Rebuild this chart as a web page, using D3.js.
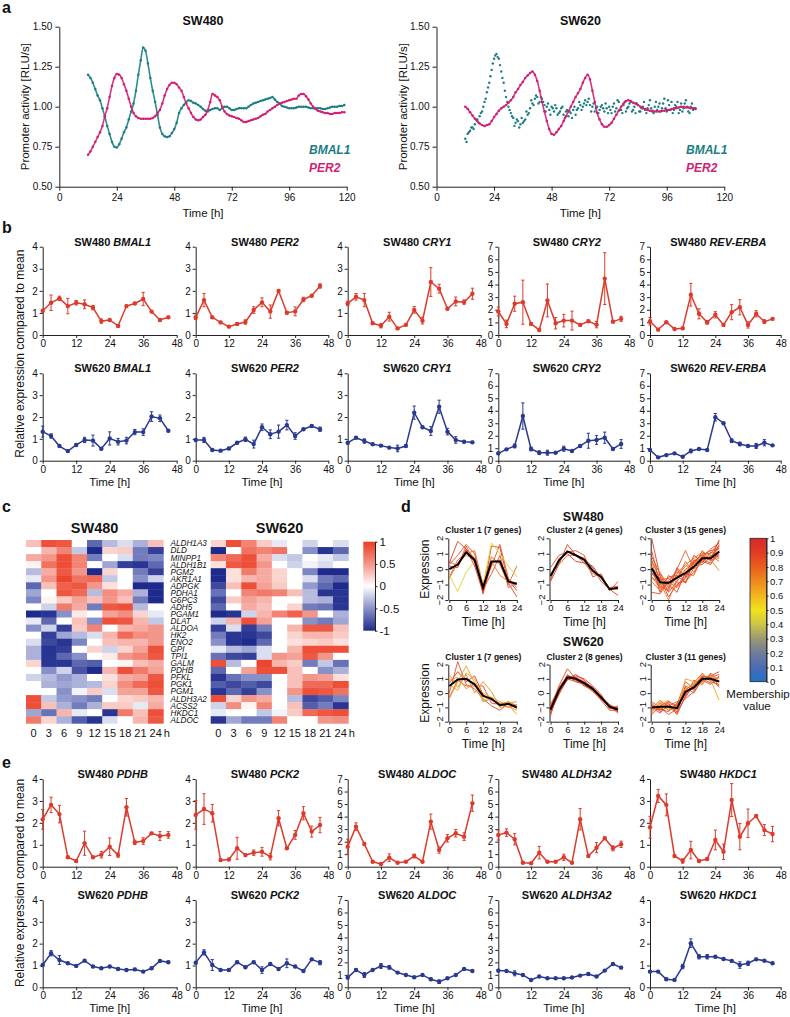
<!DOCTYPE html>
<html><head><meta charset="utf-8">
<script src="https://cdn.jsdelivr.net/npm/d3@7/dist/d3.min.js"></script>
<style>html,body{margin:0;padding:0;background:#fff;}</style>
</head><body>
<svg id="fig" width="790" height="1017" xmlns="http://www.w3.org/2000/svg"></svg>
<script>
// ================= DATA =================
// ---- panel a: promoter activity (hourly readings from t=12 h) ----
const lumStart = 12;
const lumXTicks = [0, 24, 48, 72, 96, 120];
const lumYTicks = [0.5, 0.75, 1.0, 1.25, 1.5];
const sw480_BMAL1_lum = [
 1.20,1.18,1.15,1.11,1.07,1.04,0.99,0.94,0.88,0.83,
 0.78,0.75,0.745,0.765,0.80,0.84,0.87,0.92,0.97,1.02,
 1.10,1.20,1.29,1.37,1.35,1.27,1.18,1.10,1.03,0.95,
 0.87,0.83,0.815,0.81,0.815,0.835,0.86,0.90,0.96,0.99,
 1.01,1.03,1.04,1.035,1.025,1.02,1.01,1.00,0.985,0.975,
 0.97,0.98,0.985,0.99,0.99,0.98,0.99,1.00,1.00,0.99,
 0.98,0.98,0.985,0.99,0.99,0.99,0.99,1.00,1.01,1.02,
 1.025,1.03,1.035,1.04,1.045,1.05,1.055,1.06,1.045,1.03,
 1.02,1.005,1.0,0.995,0.99,0.99,0.99,0.995,1.0,1.0,
 1.0,1.0,0.995,0.99,0.99,0.99,0.99,0.99,0.985,0.985,
 0.99,0.995,1.0,1.0,1.0,1.005,1.005,1.01];
const sw480_PER2_lum = [
 0.70,0.72,0.75,0.78,0.81,0.84,0.88,0.94,0.99,1.06,
 1.13,1.18,1.205,1.20,1.18,1.14,1.10,1.05,1.00,0.96,
 0.94,0.93,0.925,0.925,0.925,0.925,0.925,0.93,0.94,0.96,
 0.98,1.02,1.07,1.11,1.135,1.15,1.15,1.14,1.12,1.10,
 1.06,1.02,0.99,0.96,0.935,0.92,0.915,0.92,0.935,0.95,
 0.98,1.03,1.08,1.07,1.06,1.04,1.00,0.97,0.955,0.945,
 0.94,0.935,0.93,0.925,0.915,0.905,0.905,0.91,0.915,0.92,
 0.925,0.93,0.94,0.95,0.955,0.97,0.98,0.99,1.0,1.01,
 1.02,1.025,1.03,1.035,1.04,1.045,1.05,1.05,1.07,1.08,
 1.08,1.065,1.045,1.02,1.0,0.985,0.975,0.97,0.965,0.96,
 0.96,0.955,0.955,0.96,0.96,0.96,0.965,0.965];
const sw620_BMAL1_lum = [
 0.80,0.83,0.85,0.87,0.89,0.92,0.94,0.97,1.03,1.09,
 1.15,1.23,1.30,1.33,1.30,1.22,1.15,1.06,1.00,0.96,
 0.93,0.90,0.91,0.89,0.90,0.92,0.95,0.99,1.02,1.05,
 1.06,1.03,1.05,1.01,1.00,0.98,1.00,0.97,0.99,0.96,
 0.99,0.95,0.97,0.94,0.96,0.98,0.95,0.99,1.01,1.00,
 1.04,1.03,1.01,1.00,0.97,1.00,0.98,1.01,0.97,0.99,
 1.00,0.96,1.02,0.99,1.03,0.98,1.01,0.97,1.00,1.03,
 0.98,0.96,1.01,0.97,1.00,0.98,0.99,1.04,0.97,1.00,
 0.98,1.02,0.99,1.05,0.97,1.01,1.03,0.98,1.00,0.96,
 1.02,0.99,1.04,0.97,1.00,0.98,0.99];
// extra BMAL1 SW620 readings taken half an hour later (from 12.5 h)
const sw620_BMAL1_lum_half = [
 0.78,0.84,0.87,0.86,0.92,0.90,0.96,1.00,1.05,1.12,
 1.19,1.27,1.32,1.31,1.26,1.18,1.10,1.03,0.98,0.94,
 0.88,0.92,0.87,0.93,0.91,0.97,0.96,1.04,1.01,1.07,
 1.02,1.06,
 1.03,0.97,1.02,0.95,0.99,1.01,0.95,0.97,1.00,0.93,
 0.98,0.97,0.93,1.00,0.98,1.03,0.98,1.02,1.01,1.05,
 0.97,1.02,0.99,0.96,1.00,0.99,1.02,0.96,0.98,1.00,
 0.97,1.04,0.98,0.96,1.03,0.99,1.02,0.97,1.00,1.02,
 0.97,0.99,1.03,0.96,1.01,0.99,0.96,1.03,1.00,0.97,
 1.02,0.99,1.04,0.98,0.96,1.01,1.03,0.98,0.97,1.02,
 1.00,0.96,1.02,0.99];
const sw620_PER2_lum = [
 1.00,0.985,0.965,0.945,0.925,0.91,0.895,0.885,0.88,0.885,
 0.89,0.91,0.935,0.955,0.975,0.99,1.0,1.01,1.025,1.04,
 1.06,1.09,1.11,1.135,1.155,1.18,1.195,1.21,1.22,1.20,
 1.16,1.10,1.03,0.97,0.91,0.86,0.83,0.825,0.84,0.86,
 0.88,0.91,0.94,0.97,1.0,1.03,1.06,1.085,1.11,1.15,
 1.18,1.20,1.17,1.10,1.03,0.96,0.92,0.89,0.875,0.875,
 0.885,0.90,0.925,0.95,0.975,1.0,1.02,1.035,1.04,1.035,
 1.025,1.02,1.01,1.0,0.99,0.985,0.98,0.975,0.975,0.97,
 0.97,0.97,0.975,0.975,0.98,0.98,0.985,0.99,0.99,0.995,
 1.0,1.0,0.995,0.995,0.99,0.99,0.985];

// ---- panels b and e: qPCR time courses ----
const exprTimes = [0,3,6,9,12,15,18,21,24,27,30,33,36,39,42,45];
const exprXTicks = [0,12,24,36,48];
const bGenes = ["BMAL1","PER2","CRY1","CRY2","REV-ERBA"];
const bMax = [4,4,4,7,7];
const eGenes = ["PDHB","PCK2","ALDOC","ALDH3A2","HKDC1"];
const eMax = [4,4,7,7,4];

const sw480_BMAL1 = [1.1,1.46,1.66,1.31,1.46,1.39,1.24,0.63,0.68,0.41,1.31,1.43,1.63,1.06,0.68,0.8];
const sw480_BMAL1_err = [0.05,0.35,0.1,0.35,0.1,0.2,0.1,0.1,0.05,0.05,0.05,0.05,0.3,0.05,0.05,0.05];
const sw480_PER2 = [0.8,1.58,0.8,0.57,0.38,0.5,0.59,1.13,1.48,1.06,2.0,1.01,1.07,1.61,1.78,2.22];
const sw480_PER2_err = [0.1,0.3,0.05,0.05,0.05,0.05,0.1,0.15,0.2,0.3,0.05,0.05,0.2,0.1,0.05,0.1];
const sw480_CRY1 = [1.43,1.73,1.58,0.53,0.42,0.83,0.3,0.46,1.14,0.65,2.4,2.1,1.19,1.52,1.49,1.87];
const sw480_CRY1_err = [0.1,0.15,0.3,0.05,0.1,0.2,0.05,0.05,0.15,0.15,0.65,0.2,0.05,0.2,0.1,0.25];
const sw480_CRY2 = [1.86,0.88,2.48,2.6,0.88,0.4,2.74,0.93,1.14,1.14,0.8,1.09,0.82,4.47,1.06,1.28];
const sw480_CRY2_err = [0.35,0.3,0.6,1.75,0.1,0.05,1.3,0.45,0.5,0.75,0.1,0.1,0.25,2.05,0.1,0.2];
const sw480_REVERBA = [1.09,0.43,1.01,0.48,0.53,3.19,1.68,1.01,1.6,0.8,1.81,2.2,0.8,1.68,1.06,1.28];
const sw480_REVERBA_err = [0.3,0.1,0.05,0.05,0.05,0.9,0.4,0.15,0.25,0.1,0.6,0.6,0.25,0.25,0.15,0.1];

const sw620_BMAL1 = [1.33,1.13,0.67,0.44,0.72,0.95,0.92,0.55,1.02,0.87,0.92,1.31,1.31,2.02,1.94,1.37];
const sw620_BMAL1_err = [0.25,0.1,0.05,0.05,0.05,0.12,0.25,0.05,0.3,0.15,0.15,0.12,0.15,0.22,0.15,0.05];
const sw620_PER2 = [0.95,0.95,0.49,0.46,0.56,0.82,0.98,0.76,1.53,1.21,1.33,1.63,1.13,1.44,1.59,1.44];
const sw620_PER2_err = [0.05,0.12,0.05,0.05,0.05,0.05,0.1,0.18,0.15,0.2,0.3,0.22,0.15,0.05,0.05,0.1];
const sw620_CRY1 = [0.82,1.05,0.9,0.75,0.69,0.6,0.56,0.67,2.2,1.53,1.36,2.47,1.33,0.95,0.87,0.84];
const sw620_CRY1_err = [0.05,0.05,0.1,0.05,0.05,0.05,0.15,0.05,0.3,0.05,0.2,0.3,0.15,0.15,0.05,0.05];
const sw620_CRY2 = [0.59,0.91,1.18,3.58,0.94,0.64,0.64,0.64,0.96,0.78,1.18,1.6,1.66,1.84,0.94,1.34];
const sw620_CRY2_err = [0.1,0.05,0.15,1.05,0.15,0.15,0.2,0.05,0.2,0.05,0.1,0.6,0.35,0.45,0.05,0.35];
const sw620_REVERBA = [0.86,0.27,0.45,0.59,0.32,0.78,0.94,0.86,3.48,3.0,1.6,1.34,1.18,1.18,1.44,1.23];
const sw620_REVERBA_err = [0.05,0.05,0.05,0.05,0.05,0.15,0.05,0.05,0.3,0.05,0.15,0.15,0.05,0.2,0.25,0.05];

const sw480_PDHB = [2.16,2.82,2.4,0.43,0.26,1.07,0.43,0.55,0.91,0.53,2.71,1.11,1.17,1.52,1.4,1.45];
const sw480_PDHB_err = [0.45,0.35,0.4,0.05,0.05,0.55,0.05,0.15,0.4,0.1,0.4,0.1,0.15,0.05,0.2,0.15];
const sw480_PCK2 = [2.36,2.63,2.44,0.3,0.33,0.84,0.53,0.64,0.68,0.46,2.21,0.84,1.45,2.44,1.6,1.9];
const sw480_PCK2_err = [0.65,0.7,0.4,0.05,0.05,0.5,0.05,0.12,0.2,0.15,0.35,0.05,0.2,0.3,0.25,0.35];
const sw480_ALDOC = [1.6,3.2,1.81,0.4,0.21,0.72,0.32,0.4,0.85,0.4,3.6,1.33,2.27,2.67,2.4,5.07];
const sw480_ALDOC_err = [0.6,0.3,0.1,0.05,0.05,0.3,0.05,0.05,0.15,0.05,0.6,0.25,0.3,0.3,0.3,0.65];
const sw480_ALDH3A2 = [2.53,2.72,2.19,0.32,0.27,1.12,0.4,0.4,0.75,0.32,3.79,0.85,1.52,2.27,1.47,1.79];
const sw480_ALDH3A2_err = [0.4,0.3,0.45,0.05,0.05,0.5,0.05,0.05,0.25,0.05,0.85,0.1,0.4,0.1,0.2,0.25];
const sw480_HKDC1 = [1.8,3.23,2.82,0.49,0.26,0.76,0.26,0.35,1.22,0.68,3.04,1.37,1.98,2.31,1.67,1.49];
const sw480_HKDC1_err = [0.5,0.3,0.5,0.05,0.1,0.4,0.05,0.05,0.45,0.35,0.75,0.6,0.65,0.05,0.25,0.35];

const sw620_PDHB = [1.02,1.56,1.25,1.1,0.98,1.22,0.95,0.87,0.95,0.84,0.79,0.82,0.72,0.87,1.21,1.15];
const sw620_PDHB_err = [0.05,0.12,0.2,0.05,0.05,0.05,0.05,0.05,0.05,0.05,0.05,0.05,0.05,0.05,0.05,0.05];
const sw620_PCK2 = [1.13,1.6,1.02,0.79,0.79,1.15,0.92,1.15,0.79,1.07,0.84,1.1,0.95,0.75,1.28,1.13];
const sw620_PCK2_err = [0.05,0.12,0.25,0.05,0.05,0.05,0.05,0.05,0.15,0.05,0.05,0.2,0.05,0.05,0.05,0.1];
const sw620_ALDOC = [0.78,1.39,0.99,1.39,1.71,1.6,1.18,0.99,0.8,0.99,0.64,0.45,0.72,0.99,1.47,1.31];
const sw620_ALDOC_err = [0.1,0.1,0.2,0.05,0.2,0.15,0.05,0.05,0.05,0.05,0.1,0.15,0.05,0.05,0.05,0.05];
const sw620_ALDH3A2 = [1.34,1.31,1.12,0.99,0.59,0.86,0.72,0.72,0.72,0.78,0.94,1.07,0.86,1.34,1.87,1.58];
const sw620_ALDH3A2_err = [0.1,0.05,0.2,0.05,0.05,0.05,0.05,0.05,0.05,0.05,0.05,0.1,0.05,0.05,0.05,0.1];
const sw620_HKDC1 = [0.72,0.72,0.37,0.34,0.95,2.02,1.4,1.4,1.4,1.3,1.21,1.02,1.1,1.28,1.22,1.1];
const sw620_HKDC1_err = [0.05,0.05,0.05,0.05,0.1,0.2,0.1,0.1,0.05,0.05,0.05,0.15,0.1,0.05,0.05,0.05];

// ---- panel c: heatmaps ----
const hmTimes = ["0","3","6","9","12","15","18","21","24"];
const hmGenes = ["ALDH1A3","DLD","MINPP1","ALDH1B1","PGM2","AKR1A1","ADPGK","PDHA1","G6PC3","ADH5",
 "PGAM1","DLAT","ALDOA","HK2","ENO2","GPI","TPI1","GALM","PDHB","PFKL","PGK1","PGM1","ALDH3A2",
 "ACSS2","HKDC1","ALDOC"];
const hmTicks = [1,0.5,0,-0.5,-1];
const hm480 = [
 [0.3,0.9,0.85,0,-0.7,-0.3,-0.15,-0.35,0.3],
 [0,0.35,0.6,-0.25,-1,0.2,0.25,-0.6,-0.9],
 [0.4,0.5,0.9,0.6,-0.6,0,-0.15,-0.6,-0.55],
 [0.05,0.7,0.9,0.6,0,-0.4,-0.9,-0.95,-0.7],
 [-0.3,0.4,0.85,0.5,-1,0.2,0,-0.6,-0.9],
 [-0.1,0.5,0.95,0.7,0.75,-0.25,0,-0.5,-0.2],
 [-0.7,0.3,0.8,0.85,0.5,0.15,0,-1,-1],
 [-0.4,0,0.85,0.75,-0.3,0.55,0.4,-0.35,-1],
 [-0.55,0.05,0.25,0.45,0.3,0.5,0.3,-0.6,-1],
 [0,-0.2,0.65,0.4,-0.6,0.85,0.9,-0.3,0],
 [-1,-0.95,-0.5,0.1,0,0.45,0.55,0.2,-0.1],
 [-0.1,-0.7,0,0.3,-0.5,0.9,0.85,0.35,-0.25],
 [-0.5,-0.2,-0.9,0.25,0.6,0,0.35,0.4,0.5],
 [0,-0.9,-0.4,-0.3,-0.15,0.35,0.75,0.55,0.5],
 [-0.15,-0.85,-0.95,-0.55,0,0.3,0.35,0.35,0.5],
 [-0.35,-0.95,-0.9,0,0.2,-0.2,0.2,0.45,0.9],
 [-0.35,-0.95,-0.7,-0.5,0,0.1,0.5,0.6,0.85],
 [0.2,-0.95,-0.95,-0.7,-0.75,0,0.05,0.3,0.4],
 [0,-0.5,-0.2,-0.8,-1,0.35,0.9,0.65,0.45],
 [-0.2,-0.3,-0.45,-0.35,0,0.15,0.4,0.45,0.85],
 [0,-0.35,-0.4,-0.35,-0.3,0.2,0.55,0.75,0.9],
 [0,0,-0.5,-0.05,0.25,-0.15,0.45,0.45,0.85],
 [0.9,-0.25,-0.45,-0.5,-0.6,0,0.2,0.25,0.35],
 [0.9,0.3,-0.35,-0.6,-0.35,0.25,0.25,-0.1,0.4],
 [-0.4,-0.65,0.35,-0.1,0,-0.95,0.65,0.3,0.9],
 [0.65,0.2,-0.35,-0.75,-0.95,-0.15,0,0.35,0.85]];
const hm620 = [
 [0.2,0.9,0.6,0.25,-0.1,0,-0.2,0,-0.15],
 [-1,0,0.7,0.6,0.7,0,-0.5,-0.95,-0.7],
 [0.6,0.75,0.9,0.4,-0.15,-0.25,0,-0.1,-0.25],
 [0.15,0.85,0.9,0.5,0,-0.2,-0.05,-0.15,0],
 [-1,0.15,0.65,0.4,0.2,0,-0.55,-1,-1],
 [-1,0.15,0.35,0.4,0.2,0,-0.15,-0.6,-0.7],
 [-0.85,0.3,0.9,0.45,0.25,0,-0.45,-0.7,-1],
 [-0.65,0,0.6,0.65,0.6,0.3,-0.3,-0.95,-0.95],
 [-0.85,0.25,0.45,0.35,0,0,-0.3,-0.35,-0.95],
 [-0.7,0,0.4,0.3,0,0.2,-0.6,-0.65,-0.95],
 [-1,-0.95,-0.2,0.35,0.6,0.8,0.5,0,-0.35],
 [-0.2,0.35,0.9,0.45,0,0,-0.5,-0.6,-0.4],
 [-0.9,-0.15,-0.9,-0.6,0,0.35,0.85,0.85,0.3],
 [-0.6,-0.95,-0.95,-0.85,0,0.2,0.35,0.35,0.25],
 [-0.5,-0.95,-1,-0.7,0,0.15,0.2,0.25,0.15],
 [-0.1,-0.3,-0.4,-0.15,0,0.35,0.9,0.9,0.9],
 [-0.65,-0.85,-0.9,-0.15,0.5,0.45,0.85,0.5,0],
 [0.9,-0.3,0,0.95,0.35,0.25,-0.6,-0.25,-0.65],
 [-0.7,0,0.45,0.9,0.9,0.3,0,-0.5,-0.35],
 [-0.95,-0.65,-0.5,-0.5,0,0.3,0.5,0.45,0.15],
 [-0.75,-0.85,-0.75,-0.85,0,0.3,0.75,0.75,0.9],
 [-0.95,-0.7,-0.9,-0.5,0,0.5,0.9,0.85,0.7],
 [0.9,0.2,0.5,0.4,0,-0.3,-0.85,-0.75,-0.55],
 [-0.2,0.55,0.05,0.6,0,0.3,-0.75,-0.6,-0.95],
 [-0.1,0,0,-0.25,-0.05,0.25,0.75,0.85,0.9],
 [-0.95,-0.4,-0.6,-0.6,0.6,0,0,0.5,0.55]];

// ---- panel d: fuzzy clusters ----
const clTimes = [0,3,6,9,12,15,18,21,24];
const clXTicks = [0,6,12,18,24];
const clYTicks = [-2,-1,0,1,2];
const memTicks = [0,0.1,0.2,0.3,0.4,0.5,0.6,0.7,0.8,0.9,1];
const c480_1 = [
 [0.4,1.8,1.3,0.2,-1.5,1.5,1.4,-0.9,-1.8],
 [0.3,0.9,1.6,1.0,-1.3,0.2,1.6,-0.6,-1.2],
 [-0.5,0.6,1.0,1.2,-1.0,0.8,0.3,-1.0,0.2],
 [0.2,0.1,1.3,0.7,-1.6,0.4,0.6,-0.7,-1.4],
 [-0.6,0.4,0.9,0.6,-1.1,0.5,-0.4,-0.8,-1.0],
 [0.5,0.2,1.5,0.4,-1.3,-0.3,0.9,-1.2,-0.9],
 [-0.4,-1.45,-0.2,0.5,-1.0,1.7,1.0,0.2,-0.5]];
const c480_1_mem = [0.9,0.85,0.8,0.9,0.75,0.85,0.45];
const c480_1_mean = [0.0,0.3,1.1,0.6,-1.2,0.5,0.5,-0.8,-0.95];
const c480_2 = [
 [-0.8,0.3,1.6,0.9,0.7,0.1,-0.8,-1.3,-1.7],
 [0.1,0.9,1.1,1.2,0.9,-0.5,-0.3,-1.4,-0.8],
 [-0.7,0.7,1.0,0.5,0.4,0.2,-0.6,-1.2,-1.1],
 [-0.4,0.3,0.9,0.9,0.4,-0.3,-0.4,-1.3,-1.3]];
const c480_2_mem = [0.9,0.85,0.9,0.8];
const c480_2_mean = [-0.45,0.55,1.15,0.9,0.6,-0.1,-0.5,-1.3,-1.2];
const c480_3 = [
 [2.0,-0.5,-1.5,-0.8,0.0,0.3,0.8,0.6,1.6],
 [1.2,-1.0,-0.8,-1.2,-0.5,0.5,1.0,1.0,1.8],
 [0.5,-1.3,-0.9,0.0,1.2,0.0,0.5,0.9,0.8],
 [-0.3,-0.6,-1.8,-1.0,-0.6,0.4,0.9,1.2,1.3],
 [0.2,-1.5,-0.4,-0.9,-0.8,-0.2,0.6,0.4,1.0],
 [-0.6,-0.8,-1.3,-0.3,0.3,0.7,1.1,0.9,0.5],
 [0.8,-0.3,-1.0,-1.5,-0.2,0.2,0.3,0.8,1.5],
 [-0.5,-1.2,-0.5,-0.4,-0.9,0.1,1.2,0.5,1.1],
 [0.1,-0.9,-2.0,-0.7,0.5,-0.2,0.7,0.7,1.4],
 [-1.5,-1.6,-0.7,-0.2,-0.4,0.6,0.4,1.1,0.9],
 [0.4,-0.2,-1.1,-0.6,-0.1,0.3,1.0,0.6,-0.1],
 [-0.2,-1.1,-1.4,0.1,-0.5,0.9,0.5,0.3,1.2],
 [0.6,-0.7,-0.6,-1.1,-0.3,-0.4,0.8,1.3,1.7],
 [-0.8,-1.4,-0.9,-0.5,0.2,0.2,0.6,0.8,0.7],
 [0.0,-0.4,-1.2,0.0,-0.9,0.5,0.9,0.6,1.9]];
const c480_3_mem = [0.9,0.85,0.8,0.9,0.85,0.8,0.9,0.85,0.75,0.85,0.7,0.9,0.85,0.8,0.9];
const c480_3_mean = [0.05,-0.85,-0.9,-0.55,-0.25,0.15,0.7,0.7,1.15];
const c620_1 = [
 [0.0,2.2,0.6,0.3,-0.4,-0.9,-1.2,-0.7,-1.1],
 [-0.4,0.8,1.9,0.7,0.0,-0.3,-0.9,-0.6,-1.0],
 [0.7,1.5,0.8,1.2,-0.1,-0.5,-0.7,-1.0,-0.8],
 [1.3,0.4,1.3,0.0,0.8,0.1,-1.0,-0.9,-1.2],
 [0.6,0.2,1.4,1.0,-0.5,-0.3,-0.6,-0.8,-1.5],
 [-0.3,0.9,0.5,0.5,0.5,-0.7,-0.8,-0.6,-0.9],
 [0.9,1.1,0.3,0.7,-0.6,-0.4,-0.9,-0.7,-0.6]];
const c620_1_mem = [0.85,0.65,0.9,0.7,0.65,0.85,0.7];
const c620_1_mean = [0.5,0.95,1.0,0.6,-0.2,-0.4,-0.85,-0.75,-1.0];
const c620_2 = [
 [-1.6,0.4,1.2,1.1,0.8,0.4,-0.4,-1.0,-1.3],
 [-0.9,0.1,1.3,0.8,0.6,0.3,-0.2,-0.8,-1.1],
 [-1.3,-0.1,1.0,1.3,0.9,0.2,-0.5,-1.2,-1.2],
 [-1.0,0.5,1.7,1.0,0.5,0.3,-0.3,-0.9,-1.4],
 [-1.2,0.2,0.9,1.2,1.0,0.5,-0.1,-1.1,-0.9],
 [-0.8,0.3,1.1,0.9,0.6,0.1,-0.4,-0.9,-1.2],
 [-1.4,0.0,1.0,0.8,0.7,0.4,-0.2,-1.0,-1.0],
 [-1.1,0.2,1.2,1.1,0.5,0.2,-0.3,-0.8,-1.3]];
const c620_2_mem = [0.9,0.85,0.9,0.85,0.9,0.85,0.9,0.85];
const c620_2_mean = [-1.15,0.2,1.1,1.0,0.7,0.3,-0.3,-0.95,-1.15];
const c620_3 = [
 [-0.8,-1.2,-0.6,-1.0,0.5,0.2,1.2,1.1,1.3],
 [-1.3,-0.7,-1.2,-0.8,0.8,0.3,0.9,1.3,0.5],
 [-1.0,-1.4,-0.8,-1.3,-0.3,0.6,1.1,0.9,1.1],
 [-0.6,-1.0,-1.5,-1.1,0.2,0.7,1.4,0.8,0.6],
 [-1.5,-0.9,-0.6,-0.9,-0.1,0.4,0.8,1.2,1.5],
 [-1.1,-0.5,-1.0,-1.4,0.4,0.0,1.0,0.7,0.9],
 [-0.9,-1.1,-1.3,-0.7,0.0,0.5,1.2,1.0,0.4],
 [-1.2,-0.8,-0.5,-1.2,1.0,0.8,0.7,1.2,1.0],
 [-0.7,-1.3,-0.9,-0.6,-0.4,0.1,0.9,0.6,1.2],
 [-1.4,-0.6,-1.1,-1.0,0.3,0.6,1.3,0.9,-0.5],
 [-1.0,-1.2,-0.7,-1.5,-0.2,0.9,0.6,1.4,0.8]];
const c620_3_mem = [0.9,0.85,0.9,0.85,0.9,0.85,0.9,0.65,0.85,0.65,0.9];
const c620_3_mean = [-1.0,-0.95,-0.95,-1.05,0.1,0.4,1.0,1.0,0.8];

// ================= DRAWING =================
const FONT = '"Liberation Sans", Arial, Helvetica, sans-serif';
const svg = d3.select("#fig").attr("font-family", FONT);
svg.append("rect").attr("width", 790).attr("height", 1017).attr("fill", "#fff");

const TEAL = "#1b7e82", MAG = "#d01f74", RED = "#dc3b2c", BLUE = "#2a3990";

function styleAxis(g, fs) {
  g.attr("font-family", FONT).attr("font-size", fs);
  g.select(".domain").attr("stroke", "#222").attr("stroke-width", 1);
  g.selectAll(".tick line").attr("stroke", "#222");
  g.selectAll(".tick text").attr("fill", "#111");
}
function txt(s, x, y, o = {}) {
  const t = svg.append("text").attr("x", x).attr("y", y).text(s)
    .attr("font-size", o.fs || 11).attr("text-anchor", o.anchor || "middle").attr("fill", o.fill || "#111");
  if (o.bold) t.attr("font-weight", "bold");
  if (o.italic) t.attr("font-style", "italic");
  if (o.rot) t.attr("transform", `rotate(${o.rot},${x},${y})`);
  return t;
}

// panel letters
[["a", 2, 13], ["b", 2, 233], ["c", 2, 512], ["d", 401, 512], ["e", 2, 768]]
  .forEach(([l, x, y]) => txt(l, x, y, { fs: 16, bold: true, anchor: "start" }));

// ---------- panel a ----------
function lumPanel(x0, x1, title, ylabX, series, legX) {
  const x = d3.scaleLinear().domain([0, 120]).range([x0, x1]);
  const y = d3.scaleLinear().domain([0.5, 1.5]).range([186.7, 26.7]);
  styleAxis(svg.append("g").attr("transform", "translate(0,186.7)")
    .call(d3.axisBottom(x).tickValues(lumXTicks).tickSize(4).tickPadding(3).tickSizeOuter(0)), 10);
  styleAxis(svg.append("g").attr("transform", `translate(${x0},0)`)
    .call(d3.axisLeft(y).tickValues(lumYTicks).tickFormat(d3.format(".2f")).tickSize(4).tickPadding(3).tickSizeOuter(0)), 10);
  txt(title, (x0 + x1) / 2, 25, { fs: 12.5, bold: true });
  txt("Time [h]", (x0 + x1) / 2, 217, { fs: 11.5 });
  txt("Promoter activity [RLU/s]", ylabX, 106.7, { fs: 11.5, rot: -90 }).attr("dy", "0.35em");
  series.forEach(s => {
    const pts = s.values.map((v, i) => [s.start + i * s.step, v]);
    if (s.line) {
      svg.append("path").datum(pts)
        .attr("d", d3.line().x(d => x(d[0])).y(d => y(d[1])).curve(d3.curveMonotoneX))
        .attr("fill", "none").attr("stroke", s.color).attr("stroke-width", 1.6).attr("stroke-opacity", 0.9);
    }
    svg.append("g").selectAll("circle").data(pts).join("circle")
      .attr("cx", d => x(d[0])).attr("cy", d => y(d[1])).attr("r", s.line ? 1.25 : 1.2)
      .attr("fill", s.color);
  });
  txt("BMAL1", legX, 154, { fs: 12, bold: true, italic: true, anchor: "start", fill: TEAL });
  txt("PER2", legX, 172, { fs: 12, bold: true, italic: true, anchor: "start", fill: MAG });
}
lumPanel(59.3, 346.7, "SW480", 25, [
  { values: sw480_BMAL1_lum, start: lumStart, step: 1, color: TEAL, line: true },
  { values: sw480_PER2_lum, start: lumStart, step: 1, color: MAG, line: true }], 309);
lumPanel(436.5, 724.3, "SW620", 402.5, [
  { values: sw620_BMAL1_lum, start: lumStart, step: 1, color: TEAL, line: false },
  { values: sw620_BMAL1_lum_half, start: lumStart + 0.5, step: 1, color: TEAL, line: false },
  { values: sw620_PER2_lum, start: lumStart, step: 1, color: MAG, line: true }], 686);

// ---------- panels b, e ----------
const colX0 = [42.7, 195.7, 347.7, 498.3, 650];
const colW = [134, 132.6, 133, 131, 130.7];
function exprPanel(col, yTop, yZero, ymax, cell, gene, mean, err, color, showTime) {
  const x0 = colX0[col], w = colW[col];
  const x = d3.scaleLinear().domain([0, 48]).range([x0, x0 + w]);
  const y = d3.scaleLinear().domain([0, ymax]).range([yZero, yTop]);
  styleAxis(svg.append("g").attr("transform", `translate(0,${yZero})`)
    .call(d3.axisBottom(x).tickValues(exprXTicks).tickSize(3).tickPadding(2).tickSizeOuter(0)), 10);
  styleAxis(svg.append("g").attr("transform", `translate(${x0},0)`)
    .call(d3.axisLeft(y).tickValues(d3.range(0, ymax + 1)).tickFormat(d3.format("d"))
      .tickSize(3).tickPadding(2).tickSizeOuter(0)), 10);
  const t = svg.append("text").attr("x", x0 + w / 2 + 3).attr("y", yTop - 1)
    .attr("text-anchor", "middle").attr("font-size", 11).attr("font-weight", "bold").attr("fill", "#111");
  t.append("tspan").text(cell + " ");
  t.append("tspan").attr("font-style", "italic").text(gene);
  if (showTime) txt("Time [h]", x0 + w / 2, yZero + 25, { fs: 11.5 });
  const pts = exprTimes.map((tt, i) => ({ t: tt, m: mean[i], e: err[i] }));
  const g = svg.append("g");
  g.append("path").datum(pts).attr("d", d3.line().x(d => x(d.t)).y(d => y(d.m)))
    .attr("fill", "none").attr("stroke", color).attr("stroke-width", 1.5);
  const eb = g.selectAll("g.eb").data(pts).join("g").attr("stroke", color).attr("stroke-width", 1);
  eb.append("line").attr("x1", d => x(d.t)).attr("x2", d => x(d.t))
    .attr("y1", d => y(d.m - d.e)).attr("y2", d => y(d.m + d.e));
  eb.append("line").attr("x1", d => x(d.t) - 1.6).attr("x2", d => x(d.t) + 1.6)
    .attr("y1", d => y(d.m + d.e)).attr("y2", d => y(d.m + d.e));
  eb.append("line").attr("x1", d => x(d.t) - 1.6).attr("x2", d => x(d.t) + 1.6)
    .attr("y1", d => y(d.m - d.e)).attr("y2", d => y(d.m - d.e));
  g.selectAll("circle").data(pts).join("circle").attr("cx", d => x(d.t)).attr("cy", d => y(d.m))
    .attr("r", 2.2).attr("fill", color);
}
const bTop = [[sw480_BMAL1, sw480_BMAL1_err], [sw480_PER2, sw480_PER2_err], [sw480_CRY1, sw480_CRY1_err],
  [sw480_CRY2, sw480_CRY2_err], [sw480_REVERBA, sw480_REVERBA_err]];
const bBot = [[sw620_BMAL1, sw620_BMAL1_err], [sw620_PER2, sw620_PER2_err], [sw620_CRY1, sw620_CRY1_err],
  [sw620_CRY2, sw620_CRY2_err], [sw620_REVERBA, sw620_REVERBA_err]];
const eTop = [[sw480_PDHB, sw480_PDHB_err], [sw480_PCK2, sw480_PCK2_err], [sw480_ALDOC, sw480_ALDOC_err],
  [sw480_ALDH3A2, sw480_ALDH3A2_err], [sw480_HKDC1, sw480_HKDC1_err]];
const eBot = [[sw620_PDHB, sw620_PDHB_err], [sw620_PCK2, sw620_PCK2_err], [sw620_ALDOC, sw620_ALDOC_err],
  [sw620_ALDH3A2, sw620_ALDH3A2_err], [sw620_HKDC1, sw620_HKDC1_err]];
bGenes.forEach((gn, i) => {
  exprPanel(i, 246.7, 335, bMax[i], "SW480", gn, bTop[i][0], bTop[i][1], RED, false);
  exprPanel(i, 373.3, 460.7, bMax[i], "SW620", gn, bBot[i][0], bBot[i][1], BLUE, true);
});
eGenes.forEach((gn, i) => {
  exprPanel(i, 779, 866.7, eMax[i], "SW480", gn, eTop[i][0], eTop[i][1], RED, false);
  exprPanel(i, 900, 987.3, eMax[i], "SW620", gn, eBot[i][0], eBot[i][1], BLUE, true);
});
txt("Relative expression compared to mean", 20, 353.7, { fs: 12, rot: -90 }).attr("dy", "0.35em");
txt("Relative expression compared to mean", 20, 883, { fs: 12, rot: -90 }).attr("dy", "0.35em");

// ---------- panel c ----------
const heatColor = d3.scaleLinear().domain([-1, -0.5, 0, 0.5, 1])
  .range(["#1e2b8c", "#8790c9", "#ffffff", "#f3968a", "#ec3d24"]).clamp(true);
function heatmap(x0, x1, title, M) {
  const x = d3.scaleBand().domain(hmTimes).range([x0, x1]);
  const y = d3.scaleBand().domain(hmGenes).range([540, 723.3]);
  const g = svg.append("g");
  M.forEach((row, r) => row.forEach((v, c) => {
    g.append("rect").attr("x", x(hmTimes[c])).attr("y", y(hmGenes[r]))
      .attr("width", x.bandwidth() + 0.4).attr("height", y.bandwidth() + 0.4).attr("fill", heatColor(v));
  }));
  txt(title, (x0 + x1) / 2, 532.5, { fs: 14.5, bold: true });
  hmTimes.forEach(t => txt(t, x(t) + x.bandwidth() / 2, 737, { fs: 11 }));
  txt("h", x1 + 3.5, 737, { fs: 11 });
}
heatmap(26, 163.3, "SW480", hm480);
heatmap(210.7, 348.3, "SW620", hm620);
{
  const y = d3.scaleBand().domain(hmGenes).range([540, 723.3]);
  hmGenes.forEach(gn => txt(gn, 170.5, y(gn) + y.bandwidth() / 2 + 2.9,
    { fs: 8.2, italic: true, anchor: "start" }));
  const defs = svg.append("defs");
  const lg = defs.append("linearGradient").attr("id", "hmgrad").attr("x1", 0).attr("x2", 0).attr("y1", 1).attr("y2", 0);
  d3.range(0, 1.001, 0.05).forEach(f => lg.append("stop").attr("offset", f).attr("stop-color", heatColor(-1 + 2 * f)));
  const cy = d3.scaleLinear().domain([-1, 1]).range([630.7, 541.7]);
  svg.append("rect").attr("x", 363.3).attr("y", 541.7).attr("width", 11.7).attr("height", 89).attr("fill", "url(#hmgrad)");
  styleAxis(svg.append("g").attr("transform", "translate(375,0)")
    .call(d3.axisRight(cy).tickValues(hmTicks).tickFormat(d => d === 0 ? "0" : String(d)).tickSize(2.5).tickPadding(2).tickSizeOuter(0)), 11.5);
}

// ---------- panel d ----------
const memColor = d3.scaleLinear().domain(memTicks)
  .range(["#1f72c6", "#4d6bb5", "#6f7b9c", "#9a9872", "#cdc548", "#f1e21c", "#f2b61e", "#ee8a1f", "#e8601f", "#e23c23", "#d8282a"]);
function clusterPanel(x0, yTop, yBot, title, lines, mem, mean, showYLab) {
  const x = d3.scaleLinear().domain([0, 24]).range([x0, x0 + 67.5]);
  const y = d3.scaleLinear().domain([-2, 2]).range([yBot, yTop]);
  const gx = svg.append("g").attr("transform", `translate(0,${yBot})`)
    .call(d3.axisBottom(x).tickValues(clXTicks).tickSize(3).tickPadding(1.5).tickSizeOuter(0));
  styleAxis(gx, 9.5);
  const gy = svg.append("g").attr("transform", `translate(${x0 - 1},0)`)
    .call(d3.axisLeft(y).tickValues(clYTicks).tickSize(3).tickSizeOuter(0).tickFormat(() => ""));
  styleAxis(gy, 9.5);
  clYTicks.forEach(v => txt(d3.format("")(v).replace("-", "\u2212"), x0 - 6, y(v), { fs: 9.5, rot: -90 }));
  txt(title, x0 + 34, yTop - 5, { fs: 8.5, bold: true });
  txt("Time [h]", x0 + 34, yBot + 26, { fs: 12 });
  if (showYLab) txt("Expression", x0 - 20, (yTop + yBot) / 2, { fs: 12, rot: -90 });
  const line = d3.line().x((d, i) => x(clTimes[i])).y(d => y(d));
  const order = d3.range(lines.length).sort((a, b) => mem[b] - mem[a]);
  order.forEach(i => svg.append("path").attr("d", line(lines[i])).attr("fill", "none")
    .attr("stroke", memColor(mem[i])).attr("stroke-width", 0.9));
  svg.append("path").attr("d", line(mean)).attr("fill", "none").attr("stroke", "#000").attr("stroke-width", 2);
}
const clX0 = [449.3, 550.5, 651.7];
txt("SW480", 583.3, 521, { fs: 12.5, bold: true });
txt("SW620", 583.3, 646, { fs: 12.5, bold: true });
clusterPanel(clX0[0], 538.3, 600, "Cluster 1 (7 genes)", c480_1, c480_1_mem, c480_1_mean, true);
clusterPanel(clX0[1], 538.3, 600, "Cluster 2 (4 genes)", c480_2, c480_2_mem, c480_2_mean, false);
clusterPanel(clX0[2], 538.3, 600, "Cluster 3 (15 genes)", c480_3, c480_3_mem, c480_3_mean, false);
clusterPanel(clX0[0], 664.5, 721.7, "Cluster 1 (7 genes)", c620_1, c620_1_mem, c620_1_mean, true);
clusterPanel(clX0[1], 664.5, 721.7, "Cluster 2 (8 genes)", c620_2, c620_2_mem, c620_2_mean, false);
clusterPanel(clX0[2], 664.5, 721.7, "Cluster 3 (11 genes)", c620_3, c620_3_mem, c620_3_mean, false);
{
  const defs = svg.append("defs");
  const lg = defs.append("linearGradient").attr("id", "memgrad").attr("x1", 0).attr("x2", 0).attr("y1", 1).attr("y2", 0);
  memTicks.forEach(f => lg.append("stop").attr("offset", f).attr("stop-color", memColor(f)));
  const my = d3.scaleLinear().domain([0, 1]).range([681.7, 538.3]);
  svg.append("rect").attr("x", 750).attr("y", 538.3).attr("width", 16.5).attr("height", 143.4)
    .attr("fill", "url(#memgrad)").attr("stroke", "#222").attr("stroke-width", 0.8);
  styleAxis(svg.append("g").attr("transform", "translate(766.5,0)")
    .call(d3.axisRight(my).tickValues(memTicks).tickFormat(d => d === 0 ? "0" : d === 1 ? "1" : d3.format(".1f")(d)).tickSize(2).tickPadding(1.5).tickSizeOuter(0)), 9.5);
  txt("Membership", 758, 697.5, { fs: 11.5 });
  txt("value", 757, 709.5, { fs: 11.5 });
}
</script>
</body></html>
